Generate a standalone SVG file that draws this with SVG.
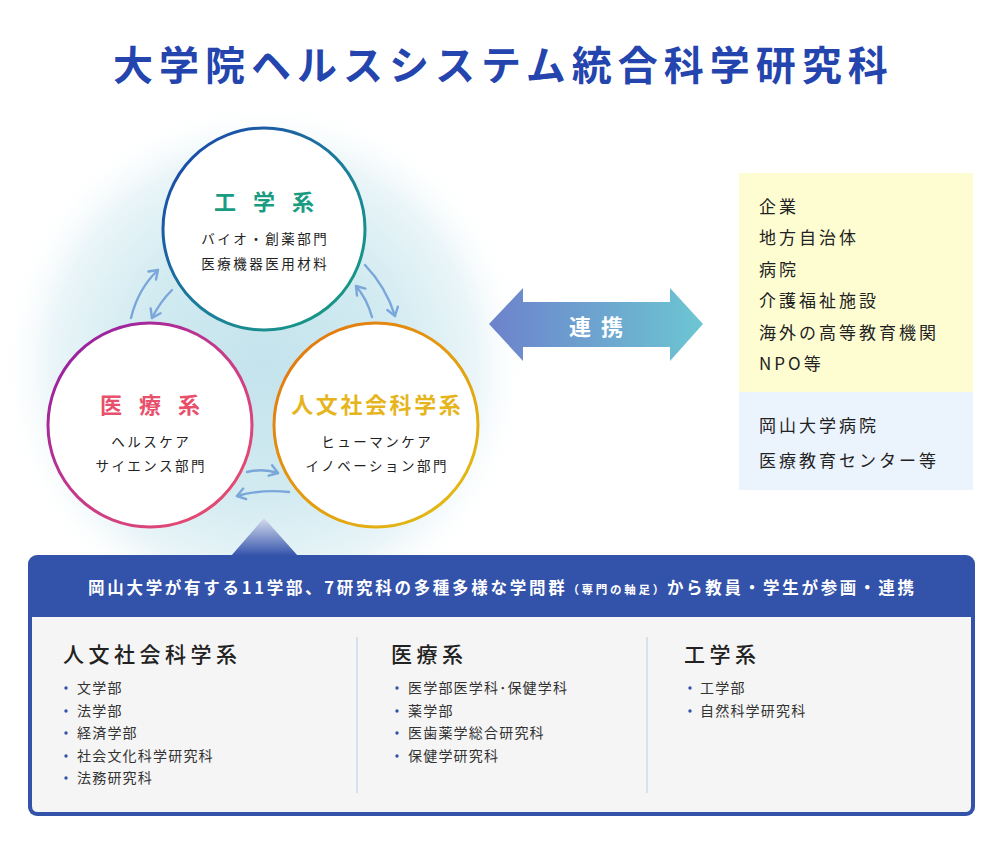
<svg xmlns="http://www.w3.org/2000/svg" width="1000" height="867" viewBox="0 0 1000 867">
<style>
text{font-family:"Noto Sans CJK JP","Noto Sans",sans-serif;}
.title{font-size:40px;font-weight:700;fill:#2444ae;letter-spacing:6px;}
.ctitle{font-size:22px;font-weight:700;text-anchor:middle;}
.csub{font-size:13.5px;fill:#222;letter-spacing:2.5px;text-anchor:middle;}
.partner{font-size:17px;fill:#222;letter-spacing:3px;}
.colh{font-size:21px;fill:#222;letter-spacing:4.5px;font-weight:500;}
.item{font-size:14px;fill:#333;letter-spacing:1.2px;}
.bul{fill:#3352aa;}
.conn{fill:none;stroke:#7aa6da;stroke-width:2.4;stroke-linecap:round;marker-end:url(#ah);}
.div{stroke:#bccbe8;stroke-width:1;}
</style>
<defs>
<radialGradient id="glow" cx="264" cy="365" r="265" gradientUnits="userSpaceOnUse">
<stop offset="0" stop-color="#c4e3ec"/>
<stop offset="0.5" stop-color="#d2ebf1"/>
<stop offset="0.8" stop-color="#eaf5f8"/>
<stop offset="1" stop-color="#ffffff" stop-opacity="0"/>
</radialGradient>
<linearGradient id="gTop" x1="0" y1="0" x2="1" y2="1">
<stop offset="0" stop-color="#1a3fae"/>
<stop offset="0.55" stop-color="#1b7f9a"/>
<stop offset="1" stop-color="#17a07e"/>
</linearGradient>
<linearGradient id="gLeft" x1="0" y1="0" x2="1" y2="1">
<stop offset="0" stop-color="#8a1aa8"/>
<stop offset="0.5" stop-color="#c73a8a"/>
<stop offset="1" stop-color="#ef5068"/>
</linearGradient>
<linearGradient id="gRight" x1="0" y1="0" x2="1" y2="1">
<stop offset="0" stop-color="#e2700e"/>
<stop offset="0.5" stop-color="#e39c12"/>
<stop offset="1" stop-color="#e2c214"/>
</linearGradient>
<linearGradient id="gArrow" x1="0" y1="0" x2="1" y2="0">
<stop offset="0" stop-color="#6d82cc"/>
<stop offset="1" stop-color="#6cc6d2"/>
</linearGradient>
<linearGradient id="gTri" x1="0" y1="0" x2="0" y2="1">
<stop offset="0" stop-color="#d6dcef"/>
<stop offset="1" stop-color="#3352aa"/>
</linearGradient>
<marker id="ah" viewBox="-10 -7 12 14" refX="0" refY="0" markerWidth="12" markerHeight="14" markerUnits="userSpaceOnUse" orient="auto">
<path d="M-8,-5.5 L0,0 L-8,5.5" fill="none" stroke="#7aa6da" stroke-width="2.4" stroke-linecap="round" stroke-linejoin="round"/>
</marker>
</defs>
<rect width="1000" height="867" fill="#ffffff"/>
<text class="title" x="113" y="80">大学院ヘルスシステム統合科学研究科</text>
<circle cx="264" cy="365" r="265" fill="url(#glow)"/>
<g id="connectors">
<path class="conn" d="M131,318 Q138,289 158,270"/>
<path class="conn" d="M172,290 Q160,302 152,318"/>
<path class="conn" d="M365,265 Q386,287 395,316"/>
<path class="conn" d="M372,317 Q367,299 356,286"/>
<path class="conn" d="M247,472 Q263,468 278,473"/>
<path class="conn" d="M289,492 Q262,489 237,496"/>
</g>
<g id="node-kougaku">
<circle cx="264" cy="229" r="101" fill="#ffffff" stroke="url(#gTop)" stroke-width="3"/>
<text class="ctitle" x="272.5" y="210" fill="#1a9c82" style="letter-spacing:17px">工学系</text>
<text class="csub" x="265.25" y="244">バイオ・創薬部門</text>
<text class="csub" x="265.25" y="269">医療機器医用材料</text>
</g>
<g id="node-iryou">
<circle cx="150" cy="425" r="102" fill="#ffffff" stroke="url(#gLeft)" stroke-width="3"/>
<text class="ctitle" x="158.5" y="413" fill="#e9506c" style="letter-spacing:17px">医療系</text>
<text class="csub" x="151.25" y="447">ヘルスケア</text>
<text class="csub" x="151.25" y="471">サイエンス部門</text>
</g>
<g id="node-jinbun">
<circle cx="376" cy="425" r="102" fill="#ffffff" stroke="url(#gRight)" stroke-width="3"/>
<text class="ctitle" x="377.3" y="413" fill="#e6b51e" style="letter-spacing:2.6px">人文社会科学系</text>
<text class="csub" x="377.25" y="447">ヒューマンケア</text>
<text class="csub" x="377.25" y="471">イノベーション部門</text>
</g>
<g id="renkei">
<path d="M489,324 L523,288 L523,302 L670,302 L670,288 L703,324 L670,361 L670,347 L523,347 L523,361 Z" fill="url(#gArrow)"/>
<text x="601" y="335" fill="#ffffff" style="font-size:22px;font-weight:700;letter-spacing:10px;text-anchor:middle">連携</text>
</g>
<g id="partners">
<rect x="739" y="173" width="234" height="219" fill="#fefdd2"/>
<text class="partner" x="759" y="213">企業</text>
<text class="partner" x="759" y="244">地方自治体</text>
<text class="partner" x="759" y="276">病院</text>
<text class="partner" x="759" y="307">介護福祉施設</text>
<text class="partner" x="759" y="339">海外の高等教育機関</text>
<text class="partner" x="759" y="370">NPO等</text>
</g>
<g id="hospital">
<rect x="739" y="392" width="234" height="98" fill="#ebf3fd"/>
<text class="partner" x="759" y="432">岡山大学病院</text>
<text class="partner" x="759" y="467">医療教育センター等</text>
</g>
<g id="faculties">
<path d="M264,518 L298,556 L231,556 Z" fill="url(#gTri)"/>
<rect x="28" y="555" width="947" height="261" rx="9" fill="#3352aa"/>
<path d="M32,617 H971 V806 Q971,812 965,812 H38 Q32,812 32,806 Z" fill="#f5f5f5"/>
<text x="88" y="594" fill="#ffffff" textLength="826" lengthAdjust="spacing" style="font-size:16.5px;font-weight:700">岡山大学が有する11学部、7研究科の多種多様な学問群<tspan style="font-size:11.5px">（専門の軸足）</tspan>から教員・学生が参画・連携</text>
<line class="div" x1="357" y1="637" x2="357" y2="793"/>
<line class="div" x1="647" y1="637" x2="647" y2="793"/>
<text class="colh" x="63" y="662">人文社会科学系</text>
<circle class="bul" cx="66" cy="688" r="1.7"/><text class="item" x="77" y="693">文学部</text>
<circle class="bul" cx="66" cy="711" r="1.7"/><text class="item" x="77" y="716">法学部</text>
<circle class="bul" cx="66" cy="733" r="1.7"/><text class="item" x="77" y="738">経済学部</text>
<circle class="bul" cx="66" cy="756" r="1.7"/><text class="item" x="77" y="761">社会文化科学研究科</text>
<circle class="bul" cx="66" cy="778" r="1.7"/><text class="item" x="77" y="783">法務研究科</text>
<text class="colh" x="391" y="662">医療系</text>
<circle class="bul" cx="397" cy="688" r="1.7"/><text class="item" x="408" y="693">医学部医学科･保健学科</text>
<circle class="bul" cx="397" cy="711" r="1.7"/><text class="item" x="408" y="716">薬学部</text>
<circle class="bul" cx="397" cy="733" r="1.7"/><text class="item" x="408" y="738">医歯薬学総合研究科</text>
<circle class="bul" cx="397" cy="756" r="1.7"/><text class="item" x="408" y="761">保健学研究科</text>
<text class="colh" x="684" y="662">工学系</text>
<circle class="bul" cx="690" cy="688" r="1.7"/><text class="item" x="700" y="693">工学部</text>
<circle class="bul" cx="690" cy="711" r="1.7"/><text class="item" x="700" y="716">自然科学研究科</text>
</g>
</svg>
